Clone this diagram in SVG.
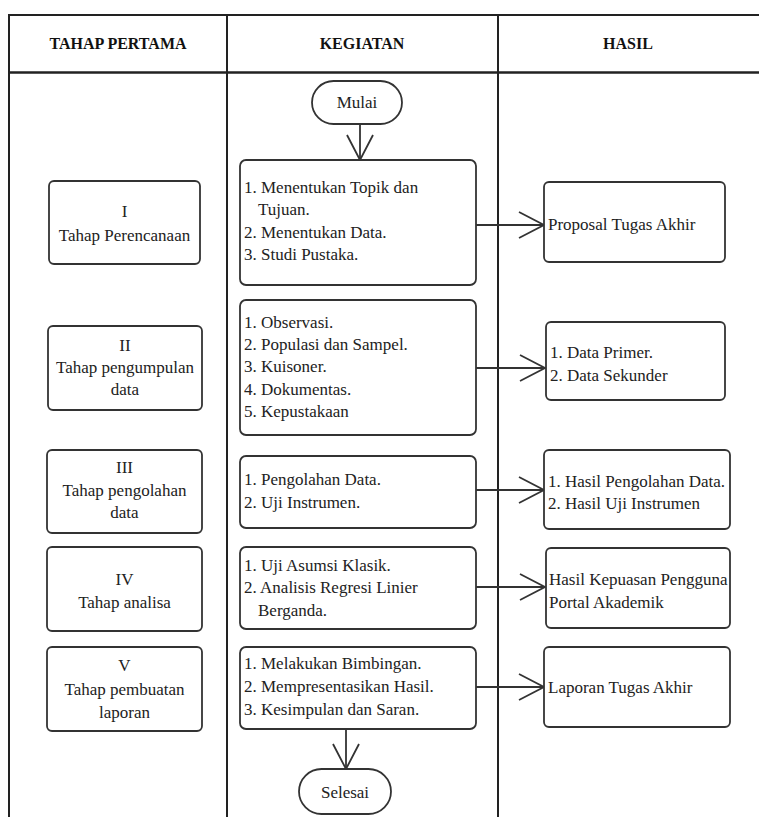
<svg xmlns="http://www.w3.org/2000/svg" width="759" height="817" viewBox="0 0 759 817">
<defs>
<style>
.grid{stroke:#222;stroke-width:2;fill:none}
.box{fill:#fff;stroke:#333;stroke-width:1.8}
.t{font-family:'Liberation Serif',Lato,sans-serif;font-size:17px;fill:#222}
.c{text-anchor:middle}
.h{font-family:'Liberation Serif',Lato,sans-serif;font-size:16px;font-weight:bold;fill:#111;text-anchor:middle}
.ln{stroke:#333;stroke-width:1.8;fill:none}
</style>
<marker id="ah" markerUnits="userSpaceOnUse" viewBox="0 0 27 28" refX="26" refY="14" markerWidth="27" markerHeight="28" orient="auto">
<path d="M1,1 L26,14 L1,27" fill="none" stroke="#333" stroke-width="1.8"/>
</marker>
</defs>
<rect width="759" height="817" fill="#fff"/>
<g id="table">
<line class="grid" x1="9" y1="15" x2="759" y2="15"/>
<line class="grid" x1="9" y1="72.5" x2="759" y2="72.5" style="stroke-width:2.6"/>
<line class="grid" x1="9" y1="14" x2="9" y2="817"/>
<line class="grid" x1="227" y1="14" x2="227" y2="817"/>
<line class="grid" x1="498" y1="14" x2="498" y2="817"/>
<text class="h" x="118" y="49">TAHAP PERTAMA</text>
<text class="h" x="362" y="49">KEGIATAN</text>
<text class="h" x="628" y="49">HASIL</text>
</g>
<g id="connectors">
<line class="ln" x1="360" y1="124" x2="360" y2="160" marker-end="url(#ah)"/>
<line class="ln" x1="476" y1="225" x2="544" y2="225" marker-end="url(#ah)"/>
<line class="ln" x1="476" y1="368" x2="545" y2="368" marker-end="url(#ah)"/>
<line class="ln" x1="476" y1="490" x2="544" y2="490" marker-end="url(#ah)"/>
<line class="ln" x1="476" y1="587" x2="545" y2="587" marker-end="url(#ah)"/>
<line class="ln" x1="476" y1="687" x2="544" y2="687" marker-end="url(#ah)"/>
<line class="ln" x1="346" y1="729" x2="346" y2="769" marker-end="url(#ah)"/>
</g>
<g id="mulai">
<rect class="box" x="312" y="81" width="90" height="43" rx="21.5"/>
<text class="t c" x="357" y="108">Mulai</text>
</g>
<g id="tahap1">
<rect class="box" x="49" y="181" width="151" height="83" rx="5"/>
<text class="t c" x="124.5" y="217">I</text>
<text class="t c" x="124.5" y="241">Tahap Perencanaan</text>
</g>
<g id="tahap2">
<rect class="box" x="48" y="326" width="154" height="84" rx="5"/>
<text class="t c" x="125" y="351">II</text>
<text class="t c" x="125" y="373">Tahap pengumpulan</text>
<text class="t c" x="125" y="395">data</text>
</g>
<g id="tahap3">
<rect class="box" x="47" y="450" width="155" height="83" rx="5"/>
<text class="t c" x="124.5" y="473">III</text>
<text class="t c" x="124.5" y="496">Tahap pengolahan</text>
<text class="t c" x="124.5" y="518">data</text>
</g>
<g id="tahap4">
<rect class="box" x="47" y="547" width="155" height="84" rx="5"/>
<text class="t c" x="124.5" y="585">IV</text>
<text class="t c" x="124.5" y="608">Tahap analisa</text>
</g>
<g id="tahap5">
<rect class="box" x="47" y="647" width="155" height="84" rx="5"/>
<text class="t c" x="124.5" y="671">V</text>
<text class="t c" x="124.5" y="695">Tahap pembuatan</text>
<text class="t c" x="124.5" y="718">laporan</text>
</g>
<g id="kegiatan1">
<rect class="box" x="240" y="160" width="236" height="125" rx="6"/>
<text class="t" x="244" y="193">1. Menentukan Topik dan</text>
<text class="t" x="258" y="215">Tujuan.</text>
<text class="t" x="244" y="238">2. Menentukan Data.</text>
<text class="t" x="244" y="260">3. Studi Pustaka.</text>
</g>
<g id="kegiatan2">
<rect class="box" x="240" y="300" width="236" height="135" rx="6"/>
<text class="t" x="244" y="328">1. Observasi.</text>
<text class="t" x="244" y="350">2. Populasi dan Sampel.</text>
<text class="t" x="244" y="372">3. Kuisoner.</text>
<text class="t" x="244" y="395">4. Dokumentas.</text>
<text class="t" x="244" y="417">5. Kepustakaan</text>
</g>
<g id="kegiatan3">
<rect class="box" x="240" y="456" width="236" height="72" rx="6"/>
<text class="t" x="244" y="485">1. Pengolahan Data.</text>
<text class="t" x="244" y="508">2. Uji Instrumen.</text>
</g>
<g id="kegiatan4">
<rect class="box" x="240" y="547" width="236" height="82" rx="6"/>
<text class="t" x="244" y="571">1. Uji Asumsi Klasik.</text>
<text class="t" x="244" y="593">2. Analisis Regresi Linier</text>
<text class="t" x="258" y="616">Berganda.</text>
</g>
<g id="kegiatan5">
<rect class="box" x="240" y="647" width="236" height="82" rx="6"/>
<text class="t" x="244" y="669">1. Melakukan Bimbingan.</text>
<text class="t" x="244" y="692">2. Mempresentasikan Hasil.</text>
<text class="t" x="244" y="715">3. Kesimpulan dan Saran.</text>
</g>
<g id="hasil1">
<rect class="box" x="544" y="182" width="181" height="80" rx="5"/>
<text class="t" x="548" y="230">Proposal Tugas Akhir</text>
</g>
<g id="hasil2">
<rect class="box" x="546" y="322" width="179" height="78" rx="5"/>
<text class="t" x="550" y="358">1. Data Primer.</text>
<text class="t" x="550" y="381">2. Data Sekunder</text>
</g>
<g id="hasil3">
<rect class="box" x="544" y="450" width="186" height="79" rx="5"/>
<text class="t" x="548" y="487">1. Hasil Pengolahan Data.</text>
<text class="t" x="548" y="509">2. Hasil Uji Instrumen</text>
</g>
<g id="hasil4">
<rect class="box" x="546" y="548" width="184" height="80" rx="5"/>
<text class="t" x="549" y="585">Hasil Kepuasan Pengguna</text>
<text class="t" x="549" y="608">Portal Akademik</text>
</g>
<g id="hasil5">
<rect class="box" x="544" y="647" width="186" height="80" rx="5"/>
<text class="t" x="548" y="693">Laporan Tugas Akhir</text>
</g>
<g id="selesai">
<rect class="box" x="299" y="769" width="92" height="45" rx="22.5"/>
<text class="t c" x="345" y="798">Selesai</text>
</g>
</svg>
